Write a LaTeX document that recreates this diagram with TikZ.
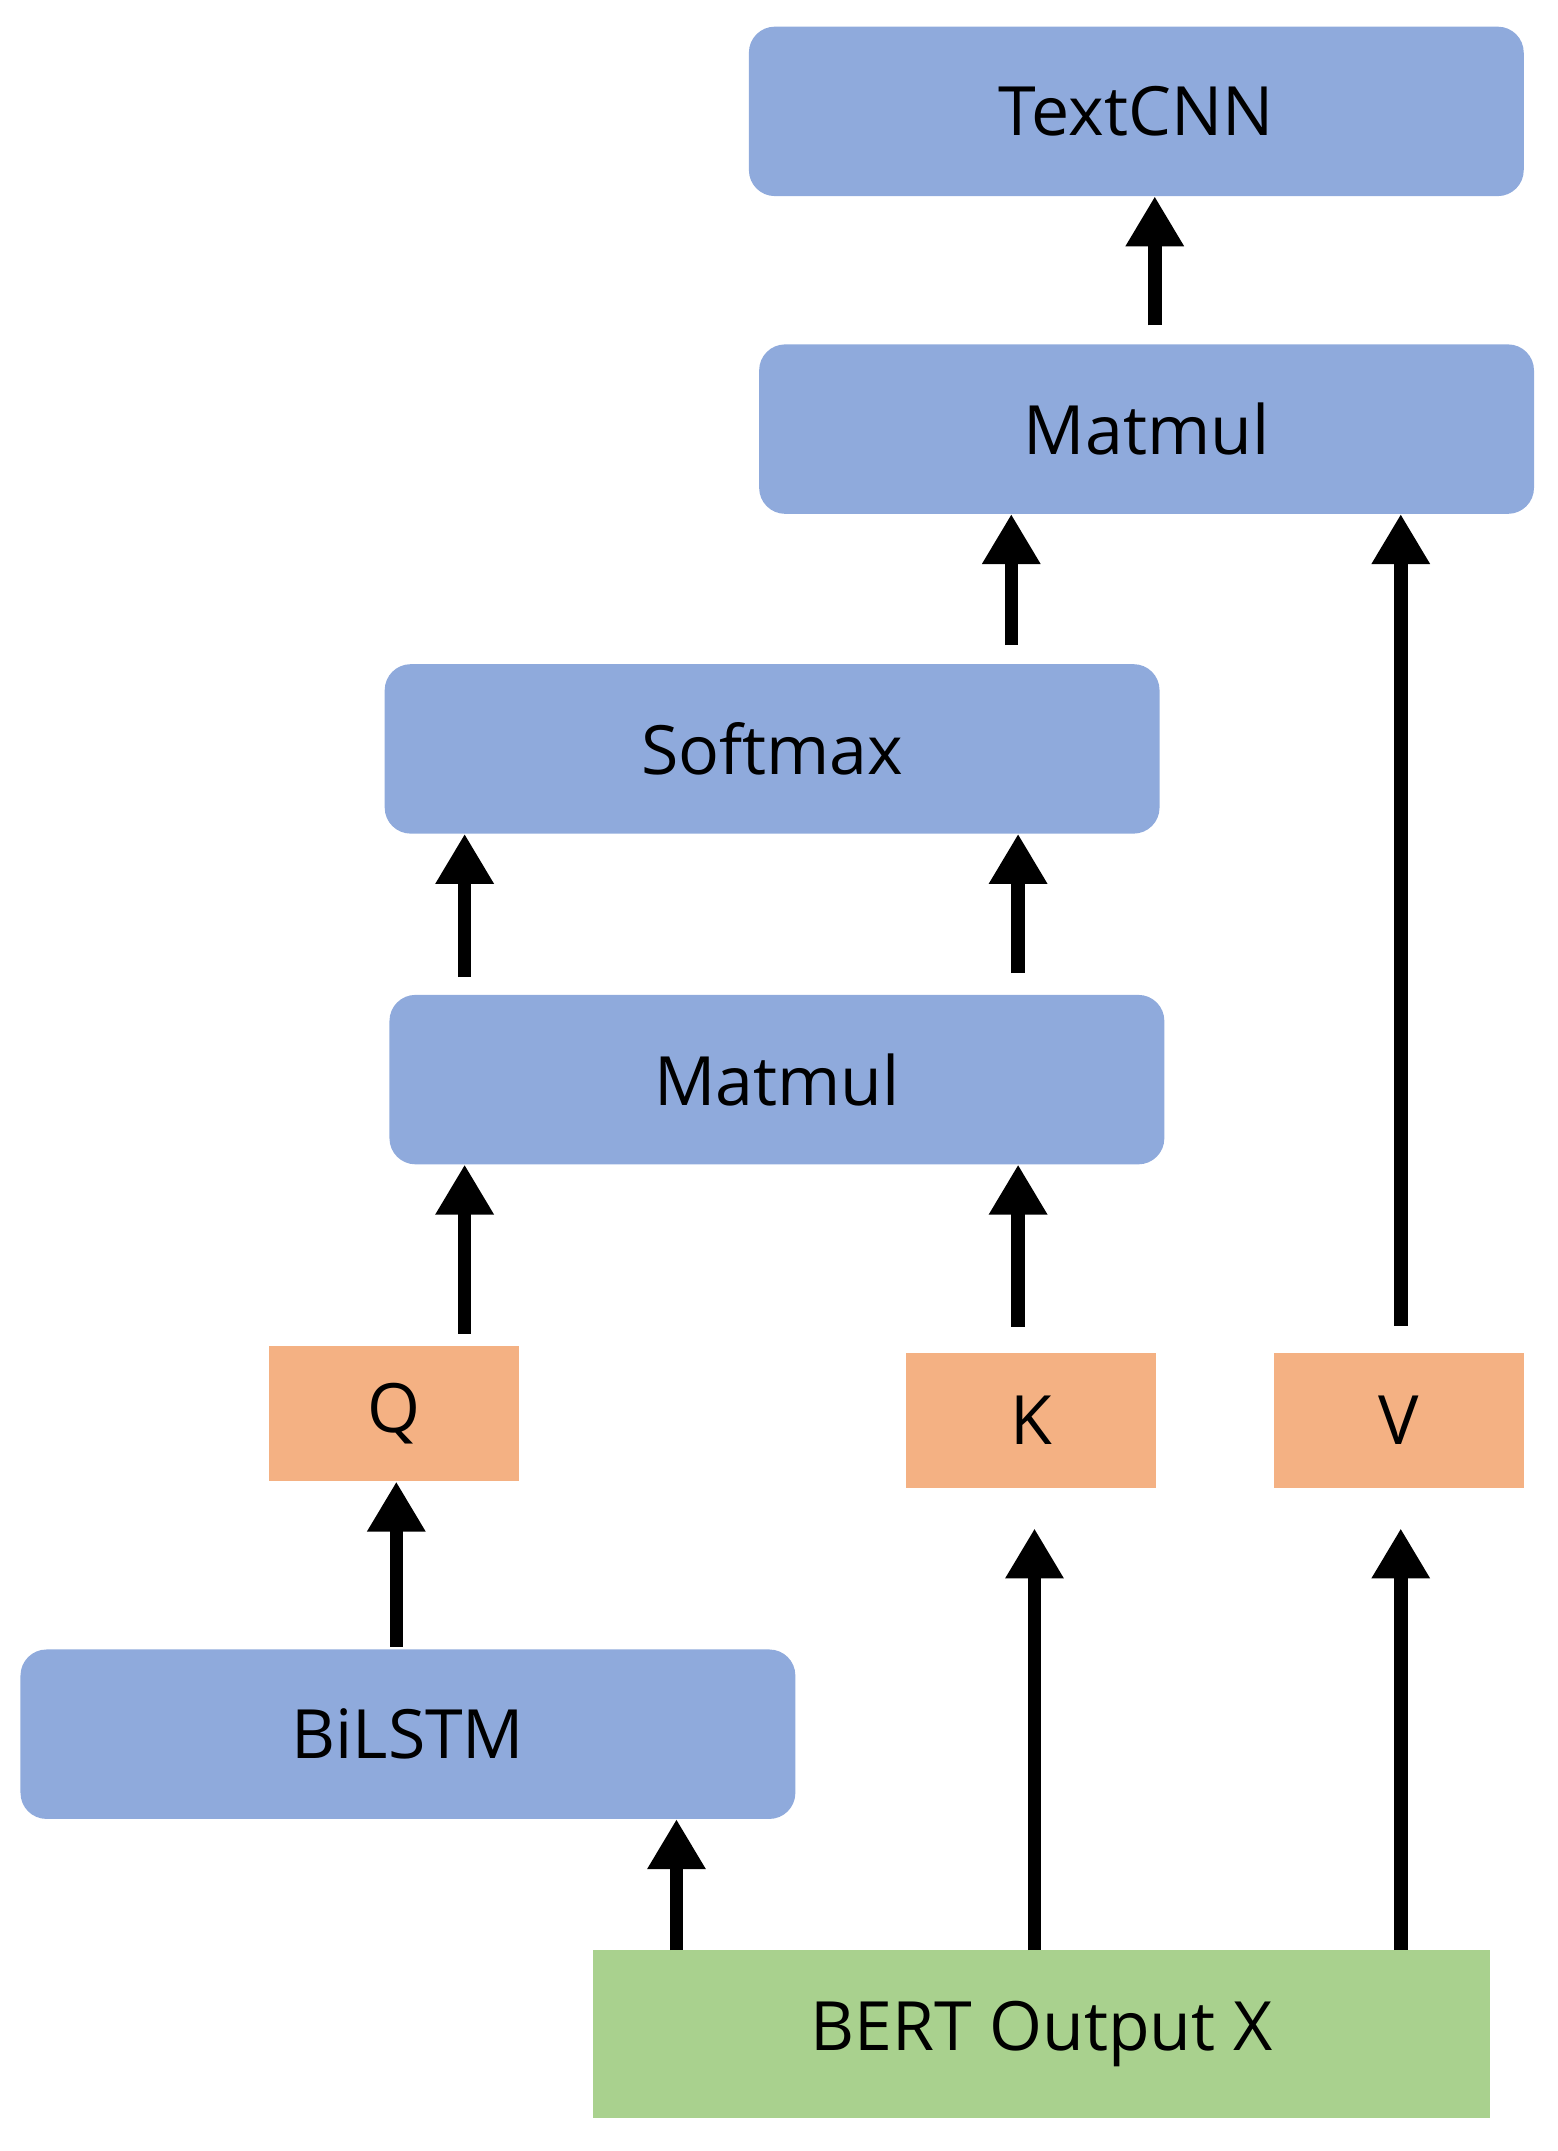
\documentclass[tikz,border=0pt]{standalone}
\usepackage{fontspec}
\setmainfont{Open Sans}
\usetikzlibrary{arrows.meta}
\begin{document}
\begin{tikzpicture}[x=1.3667pt,y=-1.3667pt,
  box/.style={draw=none,rounded corners=26pt,fill=blue1,minimum width=567*1.3667pt,minimum height=124*1.3667pt,inner sep=0pt,font=\fontsize{68}{80}\selectfont},
  sq/.style={draw=none,fill=orange1,minimum width=183*1.3667pt,minimum height=99*1.3667pt,inner sep=0pt,font=\fontsize{68}{80}\selectfont},
  arr/.style={line width=13.5pt,-{Triangle[width=55pt,length=50pt]}}]
\definecolor{blue1}{HTML}{8FAADC}
\definecolor{orange1}{HTML}{F4B183}
\definecolor{green1}{HTML}{A9D18E}
\useasboundingbox (0,0) rectangle (1140,1574);
\node[box] (tc) at (831.5,81.5) {TextCNN};
\node[box] (mm1) at (839,314) {Matmul};
\node[box] (sm) at (565,548) {Softmax};
\node[box] (mm2) at (568.5,790) {Matmul};
\node[sq] (q) at (288.5,1034.5) {Q};
\node[sq] (k) at (754.5,1039.5) {K};
\node[sq] (v) at (1023.5,1039.5) {V};
\node[box] (bl) at (298.5,1269) {BiLSTM};
\node[box,fill=green1,rounded corners=0pt,minimum width=656*1.3667pt,minimum height=123*1.3667pt] (bert) at (762,1488.5) {BERT Output X};
\coordinate (a1) at (845,238);
\coordinate (a2) at (740,472);
\coordinate (a3) at (1025,970);
\coordinate (a4) at (340,715);
\coordinate (a5) at (745,712);
\coordinate (a6) at (340,976);
\coordinate (a7) at (745,971);
\coordinate (a8) at (290,1205);
\coordinate (a9) at (757,1427);
\coordinate (a10) at (1025,1427);
\coordinate (a11) at (495,1427);
\draw[arr] (a1) -- (a1 |- tc.south);
\draw[arr] (a2) -- (a2 |- mm1.south);
\draw[arr] (a3) -- (a3 |- mm1.south);
\draw[arr] (a4) -- (a4 |- sm.south);
\draw[arr] (a5) -- (a5 |- sm.south);
\draw[arr] (a6) -- (a6 |- mm2.south);
\draw[arr] (a7) -- (a7 |- mm2.south);
\draw[arr] (a8) -- (a8 |- q.south);
\draw[arr] (a9) -- ([yshift=-40pt]a9 |- k.south);
\draw[arr] (a10) -- ([yshift=-40pt]a10 |- v.south);
\draw[arr] (a11) -- (a11 |- bl.south);
\end{tikzpicture}
\end{document}
